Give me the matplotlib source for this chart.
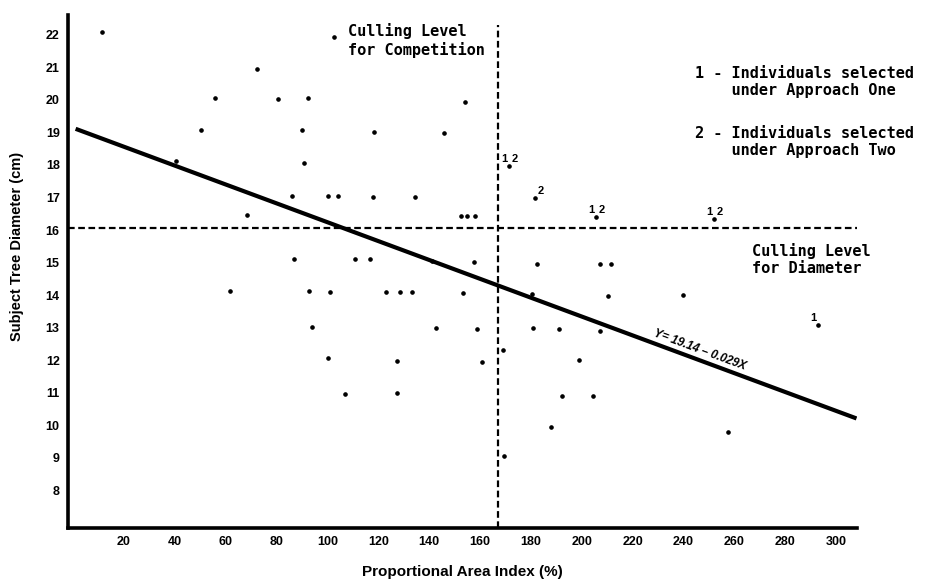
import matplotlib.pyplot as plt
import numpy as np

# subject trees (proportional area index %, diameter cm)
pai = [11.4, 40.5, 50.3, 55.8, 72.3, 80.6, 92.4, 90.0, 90.8, 86.1,
       68.4, 86.9, 61.7, 92.8, 93.9, 102.6, 118.3, 145.8, 154.1, 100.2,
       104.2, 117.9, 134.4, 152.5, 154.9, 158.0, 110.8, 116.7, 141.1, 157.6,
       182.4, 207.2, 211.5, 101.0, 123.0, 128.5, 133.3, 153.3, 180.4, 210.3,
       239.8, 142.7, 158.8, 180.8, 191.1, 207.2, 169.0, 100.2, 127.4, 160.8,
       198.9, 106.9, 127.4, 192.2, 204.4, 187.9, 169.4, 257.6]
diam = [22.09, 18.12, 19.07, 20.06, 20.95, 20.03, 20.06, 19.07, 18.06, 17.04,
        16.46, 15.11, 14.12, 14.12, 13.02, 21.93, 19.01, 18.98, 19.94, 17.04,
        17.04, 17.01, 17.01, 16.43, 16.43, 16.43, 15.11, 15.11, 15.05, 15.02,
        14.95, 14.95, 14.95, 14.09, 14.09, 14.09, 14.09, 14.06, 14.03, 13.97,
        14.0, 12.99, 12.96, 12.99, 12.96, 12.89, 12.31, 12.06, 11.97, 11.94,
        12.0, 10.96, 10.99, 10.90, 10.90, 9.94, 9.05, 9.78]

# selected individuals
sel_pai = [171.4, 181.6, 205.6, 252.0, 292.9]
sel_diam = [17.97, 16.98, 16.40, 16.34, 13.08]
sel_lab = ['1,2', '2', '1,2', '1,2', '1']

# regression Y = 19.14 - 0.029X
b0, b1 = 19.14, -0.029
fit_x = [1, 308]

cull_diam = 16.06
cull_comp = 167.1

plt.rcParams['font.family'] = 'Liberation Sans'
plt.rcParams['font.weight'] = 'bold'

fig = plt.figure(figsize=(9.25, 5.81), dpi=100)
ax = fig.add_axes([0.0735, 0.0912, 0.853, 0.883])

ax.plot(pai, diam, 'o', color='black', markersize=2.3, zorder=3)
ax.plot(sel_pai, sel_diam, 'o', color='black', markersize=2.3, zorder=3)

for x, y, lab in zip(sel_pai, sel_diam, sel_lab):
    parts = lab.split(',')
    if '1' in parts:
        ax.annotate('1', (x, y), xytext=(-3.5, 5), textcoords='offset points',
                    ha='center', va='center', fontsize=8, fontweight='bold')
    if '2' in parts:
        ax.annotate('2', (x, y), xytext=(4, 5), textcoords='offset points',
                    ha='center', va='center', fontsize=8, fontweight='bold')

fx = np.array(fit_x)
ax.plot(fx, b0 + b1 * fx, color='black', linewidth=3, solid_capstyle='butt')

ax.plot([-2, 309], [cull_diam, cull_diam], color='black', linewidth=1.6,
        linestyle=(0, (3, 1.6)))
ax.plot([cull_comp, cull_comp], [6.84, 22.3], color='black', linewidth=1.6,
        linestyle=(0, (3, 1.6)))

mono = 'DejaVu Sans Mono'
ax.text(108, 22.36, 'Culling Level\nfor Competition', family=mono, fontsize=11,
        fontweight='bold', ha='left', va='top')
ax.text(244.5, 21.05, '1 - Individuals selected\n    under Approach One', family=mono,
        fontsize=11, fontweight='bold', ha='left', va='top')
ax.text(244.5, 19.2, '2 - Individuals selected\n    under Approach Two', family=mono,
        fontsize=11, fontweight='bold', ha='left', va='top')
ax.text(267, 15.6, 'Culling Level\nfor Diameter', family=mono, fontsize=11,
        fontweight='bold', ha='left', va='top')

ax.text(246.5, 12.3, 'Y= 19.14 – 0.029X', fontsize=8.5, fontweight='bold',
        style='italic', rotation=-20.3, ha='center', va='center',
        rotation_mode='anchor')

ax.set_xlim(-2, 308.2)
ax.set_ylim(6.84, 22.61)
ax.set_xticks(range(20, 301, 20))
ax.set_yticks(range(8, 23))
ax.tick_params(length=0, labelsize=9, pad=6)
for lbl in ax.get_xticklabels() + ax.get_yticklabels():
    lbl.set_fontweight('bold')

for s in ['top', 'right']:
    ax.spines[s].set_visible(False)
for s in ['left', 'bottom']:
    ax.spines[s].set_linewidth(2.6)

ax.set_xlabel('Proportional Area Index (%)', fontsize=11, fontweight='bold')
ax.set_ylabel('Subject Tree Diameter (cm)', fontsize=10.5, fontweight='bold')
ax.xaxis.set_label_coords(0.5, -0.072)
ax.yaxis.set_label_coords(-0.056, 0.548)

fig.savefig('out.png', dpi=100)
